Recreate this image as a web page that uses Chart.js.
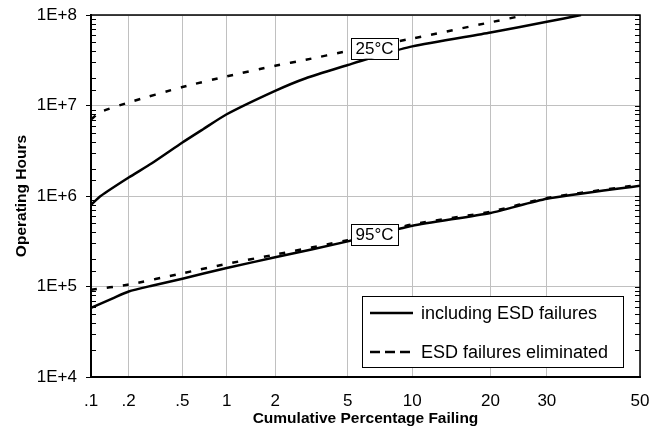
<!DOCTYPE html>
<html>
<head>
<meta charset="utf-8">
<script src="https://cdn.jsdelivr.net/npm/chart.js@4"></script>
<style>
  html, body { margin: 0; padding: 0; background: #fff; }
  #wrap { width: 661px; height: 429px; }
</style>
</head>
<body>
<div id="wrap"><canvas id="esdChart" width="661" height="429"></canvas></div>
<script>
// ---- data ----
const xTicks = [0.1, 0.2, 0.5, 1, 2, 5, 10, 20, 30, 50];          // cumulative % failing
const yTicks = [1e4, 1e5, 1e6, 1e7, 1e8];                          // operating hours

const pct25Incl = [0.1, 0.12, 0.2, 0.3, 0.5, 0.7, 1, 2, 3, 5, 7, 10, 20, 30, 37];
const hrs25Incl = [8.0e5, 1.0e6, 1.6e6, 2.3e6, 3.9e6, 5.5e6, 8.0e6, 1.45e7, 2.0e7, 2.8e7, 3.55e7, 4.5e7, 6.4e7, 8.4e7, 1.0e8];

const pct25Elim = [0.1, 0.12, 0.2, 0.5, 1, 2, 3, 5, 10, 20, 26];
const hrs25Elim = [7.0e6, 8.5e6, 1.08e7, 1.6e7, 2.1e7, 2.75e7, 3.2e7, 4.0e7, 5.5e7, 8.3e7, 1.0e8];

const pct95Incl = [0.1, 0.15, 0.2, 0.3, 0.5, 1, 2, 5, 10, 20, 30, 50];
const hrs95Incl = [5.8e4, 7.4e4, 8.8e4, 1.02e5, 1.22e5, 1.6e5, 2.1e5, 3.15e5, 4.7e5, 6.5e5, 9.3e5, 1.3e6];

const pct95Elim = [0.1, 0.2, 0.5, 1, 2, 5, 10, 20, 30, 50];
const hrs95Elim = [9.2e4, 1.05e5, 1.4e5, 1.78e5, 2.25e5, 3.25e5, 4.85e5, 6.7e5, 9.5e5, 1.33e6];

const seriesNames = ['including ESD failures', 'ESD failures eliminated'];
const tempLabels = ['25°C', '95°C'];
const tempAnchorPct = [6.75, 6.75];
const tempAnchorHrs = [4.3e7, 3.76e5];

// ---- normal probability (probit) axis ----
function probit(p) {
    // Acklam's inverse normal CDF
    const a = [-3.969683028665376e+01, 2.209460984245205e+02, -2.759285104469687e+02, 1.383577518672690e+02, -3.066479806614716e+01, 2.506628277459239e+00];
    const b = [-5.447609879822406e+01, 1.615858368580409e+02, -1.556989798598866e+02, 6.680131188771972e+01, -1.328068155288572e+01];
    const c = [-7.784894002430293e-03, -3.223964580411365e-01, -2.400758277161838e+00, -2.549732539343734e+00, 4.374664141464968e+00, 2.938163982698783e+00];
    const d = [7.784695709041462e-03, 3.224671290700398e-01, 2.445134137142996e+00, 3.754408661907416e+00];
    const pl = 0.02425;
    if (p < pl) {
        const q = Math.sqrt(-2 * Math.log(p));
        return (((((c[0]*q+c[1])*q+c[2])*q+c[3])*q+c[4])*q+c[5]) / ((((d[0]*q+d[1])*q+d[2])*q+d[3])*q+1);
    }
    if (p <= 1 - pl) {
        const q = p - 0.5, r = q * q;
        return (((((a[0]*r+a[1])*r+a[2])*r+a[3])*r+a[4])*r+a[5])*q / (((((b[0]*r+b[1])*r+b[2])*r+b[3])*r+b[4])*r+1);
    }
    const q = Math.sqrt(-2 * Math.log(1 - p));
    return -(((((c[0]*q+c[1])*q+c[2])*q+c[3])*q+c[4])*q+c[5]) / ((((d[0]*q+d[1])*q+d[2])*q+d[3])*q+1);
}
function normCdf(z) {
    const t = 1 / (1 + 0.2316419 * Math.abs(z));
    const y = 0.3989423 * Math.exp(-z * z / 2) * t * (0.3193815 + t * (-0.3565638 + t * (1.781478 + t * (-1.821256 + t * 1.330274))));
    return z > 0 ? 1 - y : y;
}

class ProbitScale extends Chart.Scale {
    determineDataLimits() {
        this.min = this.options.min;
        this.max = this.options.max;
    }
    buildTicks() {
        return xTicks.map(v => ({ value: v }));
    }
    configure() {
        super.configure();
        this._zStart = probit(this.min / 100);
        this._zEnd = probit(this.max / 100);
    }
    getLabelForValue(v) { return String(v); }
    getPixelForTick(i) { return this.getPixelForValue(this.ticks[i].value); }
    getPixelForValue(v) {
        return this.getPixelForDecimal((probit(v / 100) - this._zStart) / (this._zEnd - this._zStart));
    }
    getValueForPixel(px) {
        return 100 * normCdf(this._zStart + this.getDecimalForPixel(px) * (this._zEnd - this._zStart));
    }
}
ProbitScale.id = 'probit';
ProbitScale.defaults = {};
Chart.register(ProbitScale);

Chart.defaults.font.family = "'Liberation Sans', Arial, sans-serif";
Chart.defaults.color = '#000';

const isDecade = v => Math.abs(Math.log10(v) - Math.round(Math.log10(v))) < 1e-9;
const pts = (xs, ys) => xs.map((x, i) => ({ x: x, y: ys[i] }));

// frame, inward minor ticks, temperature tags and boxed legend
const decorPlugin = {
    id: 'decor',
    afterDatasetsDraw(chart) {
        const ctx = chart.ctx;
        const area = chart.chartArea;
        const ys = chart.scales.y;
        const xs = chart.scales.x;
        ctx.save();

        ctx.strokeStyle = '#000';
        ctx.lineWidth = 1.5;
        ctx.beginPath();
        ctx.moveTo(area.left, area.top);
        ctx.lineTo(area.right, area.top);
        ctx.lineTo(area.right, area.bottom);
        ctx.stroke();

        ctx.lineWidth = 1;
        ys.ticks.forEach(t => {
            const py = Math.round(ys.getPixelForValue(t.value)) + 0.5;
            ctx.beginPath();
            if (!isDecade(t.value)) {
                ctx.moveTo(area.left, py);
                ctx.lineTo(area.left + 5, py);
            }
            ctx.moveTo(area.right - 5, py);
            ctx.lineTo(area.right, py);
            ctx.stroke();
        });

        // temperature tags
        ctx.font = "17px 'Liberation Sans', Arial, sans-serif";
        ctx.textAlign = 'center';
        ctx.textBaseline = 'middle';
        tempLabels.forEach((lbl, i) => {
            const cx = xs.getPixelForValue(tempAnchorPct[i]);
            const cy = ys.getPixelForValue(tempAnchorHrs[i]);
            const w = 47, h = 21;
            ctx.fillStyle = '#fff';
            ctx.fillRect(cx - w / 2, cy - h / 2, w, h);
            ctx.strokeStyle = '#000';
            ctx.lineWidth = 1;
            ctx.strokeRect(Math.round(cx - w / 2) + 0.5, Math.round(cy - h / 2) + 0.5, w, h);
            ctx.fillStyle = '#000';
            ctx.fillText(lbl, cx, cy + 1);
        });

        // legend box
        const bw = 261, bh = 71;
        const bx = area.right - 17 - bw;
        const by = area.bottom - 10 - bh;
        ctx.fillStyle = '#fff';
        ctx.fillRect(bx, by, bw, bh);
        ctx.strokeStyle = '#000';
        ctx.lineWidth = 1;
        ctx.strokeRect(Math.round(bx) + 0.5, Math.round(by) + 0.5, bw, bh);
        ctx.font = "18px 'Liberation Sans', Arial, sans-serif";
        ctx.textAlign = 'left';
        seriesNames.forEach((name, i) => {
            const ly = by + 17 + i * 39;
            ctx.lineWidth = 2.5;
            ctx.setLineDash(i === 0 ? [] : [10, 5]);
            ctx.beginPath();
            ctx.moveTo(bx + 8, ly);
            ctx.lineTo(bx + 51, ly);
            ctx.stroke();
            ctx.setLineDash([]);
            ctx.fillStyle = '#000';
            ctx.fillText(name, bx + 59, ly + 1);
        });
        ctx.restore();
    }
};

const solid = { borderColor: '#000', borderWidth: 2.5, pointRadius: 0, tension: 0.2, fill: false };
const dashed = Object.assign({}, solid, { borderDash: [6, 10] });

new Chart(document.getElementById('esdChart'), {
    type: 'line',
    data: {
        datasets: [
            Object.assign({ label: seriesNames[0] + ' 25°C', data: pts(pct25Incl, hrs25Incl) }, solid),
            Object.assign({ label: seriesNames[1] + ' 25°C', data: pts(pct25Elim, hrs25Elim) }, dashed),
            Object.assign({ label: seriesNames[0] + ' 95°C', data: pts(pct95Incl, hrs95Incl) }, solid),
            Object.assign({ label: seriesNames[1] + ' 95°C', data: pts(pct95Elim, hrs95Elim) }, dashed)
        ]
    },
    options: {
        responsive: false,
        animation: false,
        events: [],
        layout: { padding: { left: 0, right: 21, top: 15, bottom: 0 } },
        plugins: { legend: { display: false }, tooltip: { enabled: false } },
        scales: {
            x: {
                type: 'probit',
                min: 0.1,
                max: 50,
                grid: { color: '#c0c0c0', lineWidth: 1, drawTicks: false },
                border: { color: '#000', width: 2 },
                ticks: {
                    padding: 14,
                    autoSkip: false,
                    maxRotation: 0,
                    font: { size: 17 },
                    callback: v => (v < 1 ? String(v).replace(/^0/, '') : String(v))
                },
                title: {
                    display: true,
                    text: 'Cumulative Percentage Failing',
                    font: { size: 15.5, weight: 'bold' },
                    padding: { top: 0, bottom: 1 }
                },
                afterFit: s => { s.height = 52; s.paddingLeft = 0; s.paddingRight = 0; }
            },
            y: {
                type: 'logarithmic',
                min: yTicks[0],
                max: yTicks[yTicks.length - 1],
                grid: {
                    color: c => (c.tick && isDecade(c.tick.value) ? '#c0c0c0' : 'rgba(0,0,0,0)'),
                    tickColor: c => (c.tick && isDecade(c.tick.value) ? '#000' : 'rgba(0,0,0,0)'),
                    tickLength: 5,
                    lineWidth: 1
                },
                border: { color: '#000', width: 2 },
                ticks: {
                    padding: 9,
                    autoSkip: false,
                    font: { size: 17 },
                    callback: v => (isDecade(v) ? '1E+' + Math.round(Math.log10(v)) : '')
                },
                title: {
                    display: true,
                    text: 'Operating Hours',
                    font: { size: 15.5, weight: 'bold' },
                    padding: { top: 12, bottom: 0 }
                },
                afterFit: s => { s.width = 91; s.paddingTop = 0; s.paddingBottom = 0; }
            }
        }
    },
    plugins: [decorPlugin]
});
</script>
</body>
</html>
